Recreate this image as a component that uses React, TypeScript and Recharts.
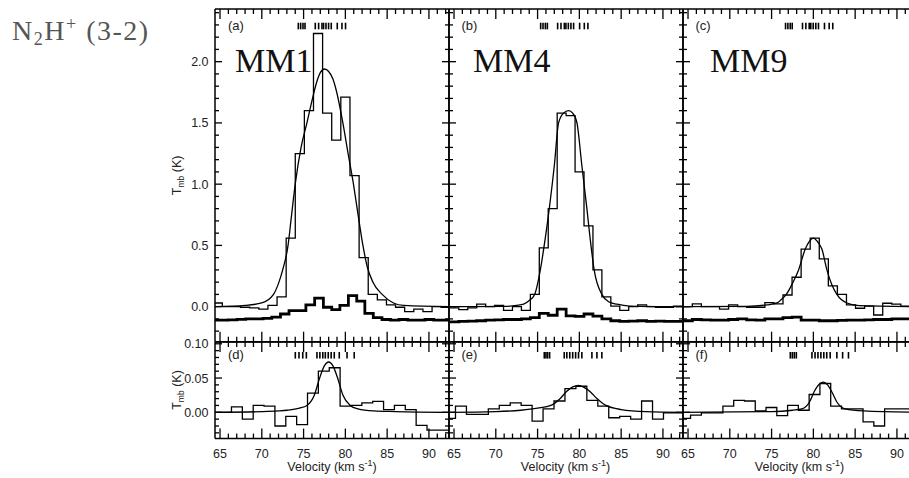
import React from "react";
import { LineChart, Line, XAxis, YAxis, ReferenceLine } from "recharts";

// velocity axis, shared by all panels
const X_DOMAIN: [number, number] = [64.4, 92.4];
const xTicks = [65, 66, 67, 68, 69, 70, 71, 72, 73, 74, 75, 76, 77, 78, 79, 80, 81, 82, 83, 84, 85, 86, 87, 88, 89, 90, 91, 92];
const xMajor = [65, 70, 75, 80, 85, 90];

const topYDomain: [number, number] = [-0.286, 2.43];
const topYTicks = [-0.2, -0.1, 0, 0.1, 0.2, 0.3, 0.4, 0.5, 0.6, 0.7, 0.8, 0.9, 1.0, 1.1, 1.2, 1.3, 1.4, 1.5, 1.6, 1.7, 1.8, 1.9, 2.0, 2.1, 2.2, 2.3, 2.4];
const topYMajor = [0, 0.5, 1.0, 1.5, 2.0];
const botYDomain: [number, number] = [-0.0384, 0.1026];
const botYTicks = [-0.03, -0.02, -0.01, 0, 0.01, 0.02, 0.03, 0.04, 0.05, 0.06, 0.07, 0.08, 0.09, 0.1];
const botYMajor = [0, 0.05, 0.1];

// (a) MM1 N2H+ 3-2
const velA = [64.73, 65.82, 66.91, 68.0, 69.1, 70.19, 71.28, 72.37, 73.46, 74.55, 75.64, 76.73, 77.82, 78.91, 80.0, 81.1, 82.19, 83.28, 84.37, 85.46, 86.55, 87.64, 88.74, 89.83, 90.92, 92.01];
const specA = [0.03, 0.0, 0.0, -0.005, -0.01, -0.02, 0.01, 0.08, 0.56, 1.25, 1.6, 2.23, 1.58, 1.36, 1.71, 1.07, 0.4, 0.1, 0.055, 0.015, -0.005, -0.04, -0.02, -0.04, 0.0, -0.005];
const fitVelA = [64.4, 68, 70, 71.4, 72.0, 72.5, 73.14, 73.5, 74.0, 74.7, 75.4, 76.0, 76.6, 77.0, 77.5, 78.0, 78.5, 79.0, 79.7, 80.3, 80.97, 81.5, 82.1, 82.6, 83.3, 84.4, 85.75, 87, 92.4];
const fitA = [0.0, 0.01, 0.03, 0.1, 0.19, 0.3, 0.5, 0.71, 1.0, 1.3, 1.5, 1.68, 1.84, 1.91, 1.94, 1.92, 1.86, 1.74, 1.5, 1.26, 1.0, 0.76, 0.5, 0.33, 0.2, 0.1, 0.03, 0.01, 0.0];
const baseVelA = [64.43, 65.47, 66.51, 67.55, 68.59, 69.63, 70.67, 71.71, 72.76, 73.75, 74.75, 75.8, 76.85, 77.89, 78.85, 79.84, 80.88, 81.84, 82.82, 83.86, 84.9, 85.9, 86.95, 88.0, 89.0, 90.05, 91.1, 92.1];
const baseA = [-0.11, -0.11, -0.108, -0.104, -0.1, -0.1, -0.095, -0.085, -0.06, -0.033, -0.033, 0.014, 0.07, -0.005, -0.025, 0.01, 0.09, 0.045, -0.055, -0.09, -0.105, -0.11, -0.105, -0.11, -0.11, -0.105, -0.11, -0.11];
const hfsA = [74.37, 74.65, 74.93, 75.17, 76.4, 76.8, 77.2, 77.39, 77.68, 77.99, 78.31, 79.03, 79.59, 80.02];

// (b) MM4
const velB = [65.04, 66.11, 67.18, 68.25, 69.32, 70.39, 71.46, 72.53, 73.6, 74.67, 75.74, 76.81, 77.88, 78.95, 80.02, 81.09, 82.16, 83.23, 84.3, 85.37, 86.44, 87.51, 88.58, 89.65, 90.72, 91.79];
const specB = [-0.01, -0.025, -0.01, 0.02, 0.0, 0.01, -0.03, 0.0, -0.03, 0.1, 0.48, 0.8, 1.58, 1.56, 1.1, 0.66, 0.3, 0.08, 0.005, -0.03, 0.0, 0.015, 0.0, -0.005, -0.005, 0.005];
const fitVelB = [64.4, 71.0, 72.5, 73.33, 74.0, 74.65, 75.33, 75.9, 76.4, 77.0, 77.51, 78.1, 78.71, 79.2, 79.71, 80.3, 80.9, 81.3, 81.77, 82.69, 83.5, 84.5, 86.0, 92.4];
const fitB = [0.0, 0.002, 0.01, 0.02, 0.05, 0.1, 0.3, 0.55, 0.8, 1.15, 1.5, 1.58, 1.6, 1.58, 1.5, 1.15, 0.8, 0.55, 0.3, 0.1, 0.04, 0.02, 0.005, 0.0];
const baseB = [-0.125, -0.12, -0.118, -0.115, -0.11, -0.108, -0.105, -0.105, -0.1, -0.09, -0.055, -0.07, -0.02, -0.075, -0.08, -0.06, -0.077, -0.1, -0.115, -0.12, -0.118, -0.115, -0.12, -0.118, -0.12, -0.12];
const hfsB = [75.37, 75.65, 75.93, 76.17, 77.4, 77.8, 78.2, 78.39, 78.68, 78.99, 79.31, 80.03, 80.59, 81.02];

// (c) MM9
const velC = [64.97, 66.06, 67.14, 68.23, 69.31, 70.4, 71.48, 72.57, 73.65, 74.74, 75.82, 76.91, 77.99, 79.08, 80.16, 81.25, 82.33, 83.42, 84.5, 85.59, 86.67, 87.76, 88.84, 89.93, 91.01, 92.1];
const specC = [0.0, 0.022, 0.0, 0.0, -0.02, 0.014, 0.0, -0.005, -0.005, 0.033, 0.022, 0.095, 0.24, 0.47, 0.56, 0.39, 0.17, 0.1, 0.014, -0.013, 0.005, -0.068, 0.028, 0.02, 0.005, 0.0];
const fitVelC = [64.4, 72, 74.5, 75.65, 76.2, 76.76, 77.5, 78.23, 79.03, 79.5, 80.02, 80.5, 81.02, 81.62, 82.2, 82.81, 84.0, 85.5, 92.4];
const fitC = [0.0, 0.003, 0.015, 0.03, 0.06, 0.1, 0.19, 0.3, 0.47, 0.53, 0.56, 0.53, 0.47, 0.3, 0.18, 0.1, 0.03, 0.008, 0.0];
const baseC = [-0.115, -0.105, -0.108, -0.11, -0.11, -0.105, -0.1, -0.108, -0.11, -0.1, -0.1, -0.09, -0.085, -0.11, -0.11, -0.115, -0.115, -0.112, -0.11, -0.11, -0.108, -0.105, -0.105, -0.1, -0.1, -0.1];
const hfsC = [76.67, 76.95, 77.23, 77.47, 78.7, 79.1, 79.5, 79.69, 79.98, 80.29, 80.61, 81.33, 81.89, 82.32];

// (d) MM1, weak line
const velD = [64.42, 65.72, 67.02, 68.32, 69.62, 70.92, 72.22, 73.52, 74.82, 76.12, 77.42, 78.72, 80.02, 81.32, 82.62, 83.92, 85.22, 86.52, 87.82, 89.12, 90.42, 91.72];
const specD = [0.0, 0.0, 0.008, -0.01, 0.01, 0.009, -0.02, -0.006, -0.018, 0.028, 0.06, 0.065, 0.009, 0.01, 0.0136, 0.016, 0.004, 0.01, 0.004, -0.019, -0.026, -0.026];
const fitVelD = [64.4, 70, 72, 73.02, 74.5, 75.4, 76.28, 76.92, 77.5, 77.99, 78.5, 79.07, 79.71, 80.58, 81.5, 83.36, 86, 92.4];
const fitD = [0.0, 0.001, 0.002, 0.003, 0.006, 0.01, 0.025, 0.05, 0.068, 0.0734, 0.068, 0.05, 0.025, 0.01, 0.005, 0.002, 0.001, 0.0];
const hfsD = [74.01, 74.45, 74.9, 75.33, 76.6, 76.95, 77.3, 77.6, 77.95, 78.3, 78.67, 79.27, 80.2, 81.06];

// (e) MM4
const velE = [64.52, 65.83, 67.14, 68.45, 69.76, 71.07, 72.38, 73.69, 75.0, 76.31, 77.62, 78.93, 80.24, 81.55, 82.86, 84.17, 85.48, 86.79, 88.1, 89.41, 90.72, 92.03];
const specE = [-0.009, 0.009, -0.003, -0.003, 0.005, 0.01, 0.0136, 0.01, -0.013, 0.005, 0.0165, 0.0346, 0.038, 0.0175, 0.009, -0.008, -0.006, -0.01, 0.0165, -0.01, -0.001, -0.001];
const fitVelE = [64.4, 70, 73, 75, 76.6, 77.71, 78.43, 79.2, 79.9, 80.6, 81.3, 82.1, 83.17, 85, 88, 92.4];
const fitE = [0.0, 0.001, 0.003, 0.006, 0.01, 0.02, 0.03, 0.037, 0.0394, 0.036, 0.03, 0.02, 0.01, 0.004, 0.001, 0.0];
const hfsE = [75.8, 76.0, 76.2, 76.44, 78.19, 78.5, 78.85, 79.2, 79.55, 79.9, 80.3, 81.5, 82.1, 82.69];

// (f) MM9
const velF = [64.65, 65.95, 67.24, 68.53, 69.82, 71.11, 72.4, 73.69, 74.98, 76.27, 77.56, 78.85, 80.14, 81.43, 82.72, 84.01, 85.3, 86.59, 87.88, 89.17, 90.46, 91.75];
const specF = [-0.009, -0.004, -0.001, -0.001, 0.009, 0.0175, 0.0165, 0.002, 0.007, -0.005, 0.01, 0.003, 0.026, 0.042, 0.009, 0.005, 0.005, -0.014, -0.02, 0.005, 0.005, 0.005];
const fitVelF = [64.4, 75, 77.5, 78.63, 79.54, 80.09, 80.7, 81.21, 81.7, 82.2, 82.81, 83.8, 86, 92.4];
const fitF = [0.0, 0.001, 0.003, 0.005, 0.015, 0.03, 0.041, 0.044, 0.04, 0.03, 0.015, 0.005, 0.002, 0.0];
const hfsF = [77.24, 77.48, 77.72, 77.96, 79.83, 80.2, 80.55, 80.9, 81.25, 81.6, 82.01, 82.81, 83.5, 84.2];

const pts = (xs: number[], ys: number[]) => xs.map((x, i) => ({ x, y: ys[i] }));

// histogram curve: each point is a channel centre, drawn as a flat step of full channel width
const histCurve = (context: any) => {
  let p: number[][] = [];
  return {
    areaStart() {},
    areaEnd() {},
    lineStart() {
      p = [];
    },
    point(x: number, y: number) {
      p.push([x, y]);
    },
    lineEnd() {
      const n = p.length;
      if (!n) return;
      const h0 = n > 1 ? (p[1][0] - p[0][0]) / 2 : 0;
      const h1 = n > 1 ? (p[n - 1][0] - p[n - 2][0]) / 2 : 0;
      context.moveTo(p[0][0] - h0, p[0][1]);
      for (let i = 0; i < n; i++) {
        const l = i === 0 ? p[i][0] - h0 : (p[i - 1][0] + p[i][0]) / 2;
        const r = i === n - 1 ? p[i][0] + h1 : (p[i][0] + p[i + 1][0]) / 2;
        context.lineTo(l, p[i][1]);
        context.lineTo(r, p[i][1]);
      }
    },
  };
};

const FONT = "'Liberation Sans', Arial, sans-serif";
const SERIF = "'Liberation Serif', 'Times New Roman', serif";
const ML = 50;
const MR = 12;
const MT = 8;
const MB = 44;
const AX = 1; // size given to the axes so that recharts draws them
const PW = 234;
const TOP_H = 332.7;
const BOT_H = 96.6;
const COLS = [215, 448.5, 682.5];
const ROW_TOP = 9;
const ROW_BOT = 341.7;

const isMajor = (v: number, majors: number[]) => majors.some((m) => Math.abs(m - v) < 1e-6);

type PanelProps = {
  left: number;
  top: number;
  height: number;
  yDomain: [number, number];
  yTicks: number[];
  yMajor: number[];
  digits: number;
  xLabels: boolean;
  yLabels: boolean;
  spec: { x: number; y: number }[];
  fit: { x: number; y: number }[];
  base?: { x: number; y: number }[];
  hfs: number[];
  hfsY: [number, number];
};

function Panel(props: PanelProps) {
  const { left, top, height, yDomain, yTicks, yMajor, digits, xLabels, yLabels, spec, fit, base, hfs, hfsY } = props;

  const xTick = (p: any) => {
    const v = p.payload.value;
    const major = isMajor(v, xMajor);
    const len = major ? 10 : 5;
    return (
      <g>
        <line x1={p.x} x2={p.x} y1={p.y} y2={p.y - len} stroke="#000" strokeWidth={1.3} />
        <line x1={p.x} x2={p.x} y1={p.y - height} y2={p.y - height + len} stroke="#000" strokeWidth={1.3} />
        {xLabels && major && (
          <text x={p.x} y={p.y + 19} textAnchor="middle" fontSize={12.5} fontFamily={FONT} fill="#222">
            {v}
          </text>
        )}
      </g>
    );
  };

  const yTick = (p: any) => {
    const v = p.payload.value;
    const major = isMajor(v, yMajor);
    const len = major ? 7 : 4;
    return (
      <g>
        <line x1={p.x} x2={p.x + len} y1={p.y} y2={p.y} stroke="#000" strokeWidth={1.3} />
        <line x1={p.x + PW} x2={p.x + PW - len} y1={p.y} y2={p.y} stroke="#000" strokeWidth={1.3} />
        {yLabels && major && (
          <text x={p.x - 6.5} y={p.y + 4.5} textAnchor="end" fontSize={12.5} fontFamily={FONT} fill="#222">
            {v.toFixed(digits)}
          </text>
        )}
      </g>
    );
  };

  return (
    <div style={{ position: "absolute", left: left - ML, top: top - MT }}>
      <LineChart
        width={PW + ML + MR}
        height={height + MT + MB}
        margin={{ top: MT, right: MR, bottom: MB - AX, left: ML - AX }}
      >
        <XAxis
          dataKey="x"
          type="number"
          domain={X_DOMAIN}
          allowDataOverflow
          ticks={xTicks}
          interval={0}
          height={AX}
          tickSize={0}
          tickMargin={0}
          tickLine={false}
          axisLine={{ stroke: "#000", strokeWidth: 1.5 }}
          tick={xTick}
        />
        <YAxis
          type="number"
          domain={yDomain}
          allowDataOverflow
          ticks={yTicks}
          interval={0}
          width={AX}
          tickSize={0}
          tickMargin={0}
          tickLine={false}
          axisLine={{ stroke: "#000", strokeWidth: 1.5 }}
          tick={yTick}
        />
        <ReferenceLine y={yDomain[1]} stroke="#000" strokeWidth={1.5} />
        <ReferenceLine x={X_DOMAIN[1]} stroke="#000" strokeWidth={1.5} />
        {hfs.map((v, i) => (
          <ReferenceLine
            key={`hfs-${i}`}
            segment={[
              { x: v, y: hfsY[0] },
              { x: v, y: hfsY[1] },
            ]}
            stroke="#000"
            strokeWidth={1.6}
          />
        ))}
        {base && (
          <Line data={base} dataKey="y" type={histCurve as any} stroke="#000" strokeWidth={2.8} dot={false} isAnimationActive={false} />
        )}
        <Line data={spec} dataKey="y" type={histCurve as any} stroke="#000" strokeWidth={1.3} dot={false} isAnimationActive={false} />
        <Line data={fit} dataKey="y" type="monotone" stroke="#000" strokeWidth={1.3} dot={false} isAnimationActive={false} />
      </LineChart>
    </div>
  );
}

const panelTags = ["(a)", "(b)", "(c)", "(d)", "(e)", "(f)"];
const sources = ["MM1", "MM4", "MM9"];
const sourceX = [235, 473, 710];

export default function App() {
  const topHfs: [number, number] = [2.264, 2.318];
  const botHfs: [number, number] = [0.0784, 0.088];
  const top = { top: ROW_TOP, height: TOP_H, yDomain: topYDomain, yTicks: topYTicks, yMajor: topYMajor, digits: 1, xLabels: false, hfsY: topHfs };
  const bot = { top: ROW_BOT, height: BOT_H, yDomain: botYDomain, yTicks: botYTicks, yMajor: botYMajor, digits: 2, xLabels: true, hfsY: botHfs };
  return (
    <div style={{ position: "absolute", left: 0, top: 0, width: 909, height: 478, overflow: "hidden", background: "#fff" }}>
      <Panel {...top} left={COLS[0]} yLabels spec={pts(velA, specA)} fit={pts(fitVelA, fitA)} base={pts(baseVelA, baseA)} hfs={hfsA} />
      <Panel {...top} left={COLS[1]} yLabels={false} spec={pts(velB, specB)} fit={pts(fitVelB, fitB)} base={pts(velB, baseB)} hfs={hfsB} />
      <Panel {...top} left={COLS[2]} yLabels={false} spec={pts(velC, specC)} fit={pts(fitVelC, fitC)} base={pts(velC, baseC)} hfs={hfsC} />
      <Panel {...bot} left={COLS[0]} yLabels spec={pts(velD, specD)} fit={pts(fitVelD, fitD)} hfs={hfsD} />
      <Panel {...bot} left={COLS[1]} yLabels={false} spec={pts(velE, specE)} fit={pts(fitVelE, fitE)} hfs={hfsE} />
      <Panel {...bot} left={COLS[2]} yLabels={false} spec={pts(velF, specF)} fit={pts(fitVelF, fitF)} hfs={hfsF} />
      <svg width={909} height={478} style={{ position: "absolute", left: 0, top: 0, pointerEvents: "none" }}>
        <text x={12} y={40} fontFamily={SERIF} fontSize={28} fill="#555" letterSpacing={1.5}>
          N<tspan dy={5} fontSize={18}>2</tspan>
          <tspan dy={-5}>H</tspan>
          <tspan dy={-10} fontSize={18}>+</tspan>
          <tspan dy={10}> (3-2)</tspan>
        </text>
        {sources.map((s, i) => (
          <text key={s} x={sourceX[i]} y={72} fontFamily={SERIF} fontSize={34} fill="#111">
            {s}
          </text>
        ))}
        {panelTags.map((t, i) => (
          <text key={t} x={COLS[i % 3] + 13} y={i < 3 ? 29.5 : 358.5} fontFamily={FONT} fontSize={13} fill="#222">
            {t}
          </text>
        ))}
        {[ROW_TOP + TOP_H / 2, ROW_BOT + BOT_H / 2].map((cy, i) => (
          <text key={`yt-${i}`} x={181} y={cy} transform={`rotate(-90 181 ${cy})`} textAnchor="middle" fontFamily={FONT} fontSize={12.5} fill="#222">
            T<tspan dy={3} fontSize={8.5}>mb</tspan>
            <tspan dy={-3}> (K)</tspan>
          </text>
        ))}
        {COLS.map((c, i) => (
          <text key={`xt-${i}`} x={c + PW / 2} y={471} textAnchor="middle" fontFamily={FONT} fontSize={12.5} fill="#222">
            Velocity (km s<tspan dy={-5} fontSize={9}>-1</tspan>
            <tspan dy={5}>)</tspan>
          </text>
        ))}
      </svg>
    </div>
  );
}
